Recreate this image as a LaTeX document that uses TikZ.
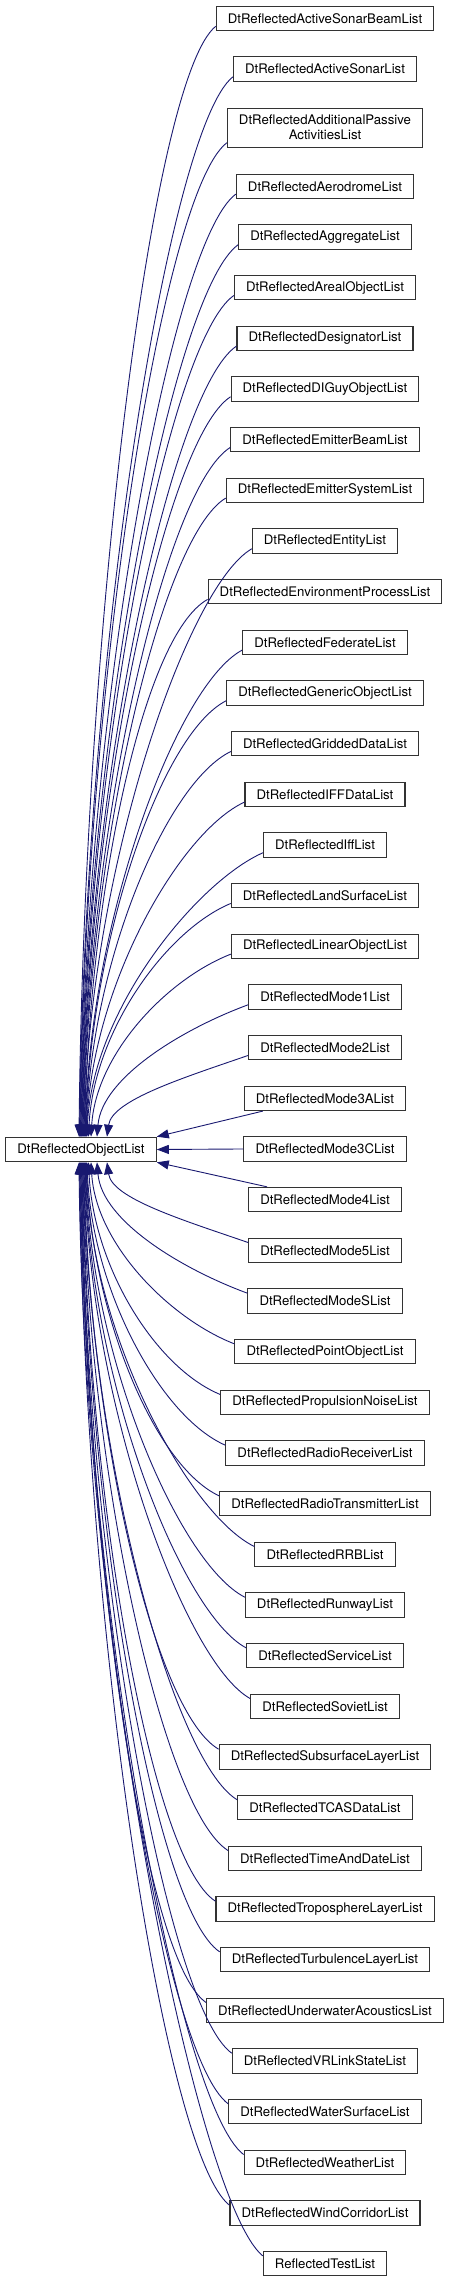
\documentclass[tikz,border=0pt]{standalone}
\usepackage{fontspec}
\setmainfont{TeX Gyre Heros}
\usetikzlibrary{arrows.meta,calc}
\definecolor{edgeblue}{HTML}{191970}
\newcommand\upedge[2]{%
  \draw[edge] let \p1=($(#1.south west)+(0,5)$), \p2=([xshift=#2]obj.north) in
    (\p2) .. controls ({\x2+5pt},{\y2+0.45*(\y1-\y2)}) and ({\x1-65pt},{\y1-20pt-0.03*(\y1-\y2)}) .. (\p1);}
\newcommand\downedge[2]{%
  \draw[edge] let \p1=($(#1.north west)+(0,-5)$), \p2=([xshift=#2]obj.south) in
    (\p2) .. controls ({\x2+5pt},{\y2+0.45*(\y1-\y2)}) and ({\x1-65pt},{\y1+20pt-0.03*(\y1-\y2)}) .. (\p1);}
\begin{document}
\begin{tikzpicture}[x=1pt,y=1pt,
  box/.style={draw=black!80, line width=1.1pt, fill=white, inner xsep=11.6pt, inner ysep=0pt,
    minimum height=24.5pt, font=\fontsize{13.2}{15}\selectfont},
  edge/.style={draw=edgeblue, line width=0.9pt, {Triangle[length=12pt,width=9pt]}-}]
\useasboundingbox (0,0) rectangle (451,-2283);
\node[box] (obj) at (81,-1149.5) {DtReflectedObjectList};
\node[box] (asb) at (325,-18.5) {DtReflectedActiveSonarBeamList};
\node[box] (as) at (325,-69) {DtReflectedActiveSonarList};
\node[box, align=center, minimum height=39pt] (app) at (325,-127.7) {DtReflectedAdditionalPassive\\ActivitiesList};
\foreach \nm/\tx [count=\k from 4] in {aer/Aerodrome, agg/Aggregate, are/ArealObject, des/Designator,
  dig/DIGuyObject, emb/EmitterBeam, ems/EmitterSystem, ent/Entity, env/EnvironmentProcess,
  fed/Federate, gen/GenericObject, gri/GriddedData, iffd/IFFData, iff/Iff, land/LandSurface,
  lin/LinearObject, ma/Mode1, mb/Mode2, mc/Mode3A, md/Mode3C, me/Mode4, mf/Mode5, ms/ModeS,
  pt/PointObject, prop/PropulsionNoise, rr/RadioReceiver, rt/RadioTransmitter, rrb/RRB,
  run/Runway, ser/Service, sov/Soviet, sub/SubsurfaceLayer, tcas/TCASData, time/TimeAndDate,
  trop/TroposphereLayer, turb/TurbulenceLayer, uwa/UnderwaterAcoustics, vrl/VRLinkState,
  ws/WaterSurface, wea/Weather, wind/WindCorridor}
  {\node[box] (\nm) at (325,{-(186.3+(\k-4)*50.667)}) {DtReflected\tx List};}
\node[box] (rtl) at (325,-2263.6) {ReflectedTestList};
% upper edges
\foreach \nm/\dx in {asb/-2, as/-1.5, app/-1, aer/-0.5, agg/0, are/0.5, des/1, dig/1.5,
  emb/2, ems/2.5, ent/3, env/3.5, fed/4, gen/4.5, gri/5, iffd/5.5, iff/6, land/7.5, lin/10,
  ma/16, mb/26}
  {\upedge{\nm}{\dx}}
% lower edges
\foreach \nm/\dx in {rtl/-2, wind/-1.5, wea/-1, ws/-0.5, vrl/0, uwa/0.5, turb/1, trop/1.5,
  time/2, tcas/2.5, sub/3, sov/3.5, ser/4, run/4.5, rrb/5, rt/5.5, rr/6, prop/7.5, pt/10,
  ms/16, mf/26}
  {\downedge{\nm}{\dx}}
\draw[edge] (obj.north east) -- ($(mc.south west)+(19,0)$);
\draw[edge] (obj.east) -- (md.west);
\draw[edge] (obj.south east) -- ($(me.north west)+(19,0)$);
\end{tikzpicture}
\end{document}
